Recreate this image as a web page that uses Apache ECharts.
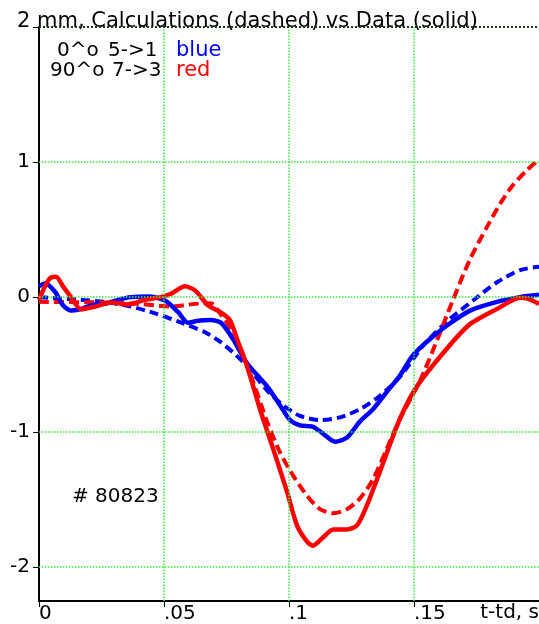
<!DOCTYPE html>
<html>
<head>
<meta charset="utf-8">
<script src="https://cdn.jsdelivr.net/npm/echarts@6/dist/echarts.min.js"></script>
<style>
html,body{margin:0;padding:0;background:#fff;}
#c{width:539px;height:624px;}
</style>
</head>
<body>
<div id="c"></div>
<script>
// ---- data (t - td in seconds, displacement in mm) ----
var blueDataT = [0,0.0024,0.0064,0.0096,0.0128,0.0164,0.0212,0.0264,0.0316,0.0368,0.0436,0.0504,0.0556,0.0596,0.0636,0.0688,0.0728,0.0776,0.0832,0.0912,0.0964,0.1004,0.1044,0.1096,0.1136,0.1184,0.1232,0.1284,0.1336,0.1392,0.1444,0.1496,0.1564,0.1632,0.1724,0.1832,0.1924,0.2];
var blueDataV = [0.08,0.10,0.04,-0.06,-0.10,-0.09,-0.06,-0.05,-0.02,0.0,0.005,-0.025,-0.11,-0.19,-0.175,-0.17,-0.19,-0.31,-0.49,-0.66,-0.80,-0.91,-0.95,-0.96,-1.01,-1.07,-1.04,-0.92,-0.83,-0.70,-0.58,-0.43,-0.31,-0.21,-0.10,-0.035,0.0,0.017];

var blueCalcT = [0,0.0084,0.0164,0.0264,0.0368,0.0464,0.0556,0.0664,0.0724,0.0776,0.0832,0.0912,0.0976,0.1044,0.1124,0.1204,0.1284,0.1364,0.1444,0.1536,0.1632,0.1736,0.1832,0.1924,0.2];
var blueCalcV = [0.0,-0.01,-0.02,-0.035,-0.07,-0.12,-0.18,-0.26,-0.33,-0.41,-0.51,-0.69,-0.80,-0.88,-0.91,-0.89,-0.83,-0.73,-0.59,-0.36,-0.18,-0.025,0.11,0.20,0.225];

var redDataT = [0,0.0024,0.0044,0.0068,0.0096,0.0128,0.0168,0.0224,0.0288,0.0356,0.0424,0.0488,0.0528,0.0584,0.0624,0.0676,0.0724,0.0764,0.0792,0.0832,0.0884,0.0936,0.0992,0.1032,0.1072,0.1096,0.1136,0.1176,0.1232,0.1272,0.1312,0.1364,0.1444,0.1512,0.1632,0.1724,0.1832,0.1924,0.1952,0.2];
var redDataV = [-0.02,0.08,0.14,0.15,0.08,0.0,-0.09,-0.07,-0.04,-0.055,-0.02,0.0,0.025,0.08,0.05,-0.06,-0.11,-0.17,-0.31,-0.51,-0.83,-1.12,-1.44,-1.69,-1.81,-1.84,-1.78,-1.72,-1.72,-1.69,-1.54,-1.29,-0.90,-0.66,-0.38,-0.20,-0.087,-0.005,-0.01,-0.05];

var redCalcT = [0,0.0264,0.0396,0.0528,0.0624,0.0688,0.0724,0.0776,0.0832,0.0912,0.0964,0.1016,0.1072,0.1124,0.1176,0.1232,0.1284,0.1336,0.1392,0.1444,0.1524,0.1592,0.1656,0.1724,0.1792,0.1844,0.1896,0.1952,0.2];
var redCalcV = [-0.035,-0.04,-0.05,-0.07,-0.05,-0.045,-0.12,-0.26,-0.50,-0.92,-1.15,-1.32,-1.47,-1.57,-1.60,-1.57,-1.49,-1.35,-1.12,-0.90,-0.62,-0.32,-0.02,0.28,0.52,0.69,0.83,0.94,1.02];

var xTicks = [0,0.05,0.1,0.15];
var xTickLabels = ['0','.05','.1','.15'];
var yTicks = [-2,-1,0,1,2];
var yLabelValues = [-2,-1,0,1];
var xGrid = [0.05,0.1,0.15];
var yGrid = [-2,-1,0,1];

var titleText = '2 mm, Calculations (dashed) vs Data (solid)';
var xAxisName = 't-td, s';
var shotText = '# 80823';

function pairs(t, v){ return t.map(function(x,i){ return [x, v[i]]; }); }

var FONT = '"DejaVu Sans", sans-serif';
var GREEN = '#3fe83f';

var chart = echarts.init(document.getElementById('c'), null, {renderer:'canvas'});

var gridLines = xGrid.map(function(x){ return {xAxis:x}; })
  .concat(yGrid.map(function(y){ return {yAxis:y}; }));

chart.setOption({
  animation:false,
  backgroundColor:'#ffffff',
  grid:{left:39, right:0, top:27, bottom:23, containLabel:false},
  xAxis:{
    type:'value', min:0, max:0.2,
    axisLine:{show:true, onZero:false, lineStyle:{color:'#000', width:2}},
    axisTick:{show:true, length:6, customValues:xTicks, lineStyle:{color:'#000', width:1}},
    axisLabel:{show:true, customValues:xTicks, margin:3, align:'left', fontFamily:FONT, fontSize:20, color:'#000',
      formatter:function(v){ var i = xTicks.indexOf(v); return i>=0 ? xTickLabels[i] : ''; }},
    splitLine:{show:false}
  },
  yAxis:{
    type:'value', min:-2.25, max:2,
    axisLine:{show:true, onZero:false, lineStyle:{color:'#000', width:2}},
    axisTick:{show:true, length:6, customValues:yTicks, lineStyle:{color:'#000', width:1}},
    axisLabel:{show:true, customValues:yLabelValues, margin:9, fontFamily:FONT, fontSize:20, color:'#000', padding:[0,0,7,0]},
    splitLine:{show:false}
  },
  graphic:[
    {type:'text', left:17, top:11, style:{text:titleText, font:'21px "DejaVu Sans", sans-serif', fill:'#000'}},
    {type:'text', left:57, top:41, style:{text:'0^o', font:'20px "DejaVu Sans", sans-serif', fill:'#000'}},
    {type:'text', left:108, top:41, style:{text:'5->1', font:'20px "DejaVu Sans", sans-serif', fill:'#000'}},
    {type:'text', left:50, top:61, style:{text:'90^o', font:'20px "DejaVu Sans", sans-serif', fill:'#000'}},
    {type:'text', left:112, top:61, style:{text:'7->3', font:'20px "DejaVu Sans", sans-serif', fill:'#000'}},
    {type:'text', left:176, top:40, style:{text:'blue', font:'21px "DejaVu Sans", sans-serif', fill:'#0000ff'}},
    {type:'text', left:176, top:60, style:{text:'red', font:'21px "DejaVu Sans", sans-serif', fill:'#ff0000'}},
    {type:'text', left:72, top:487, style:{text:shotText, font:'20px "DejaVu Sans", sans-serif', fill:'#000'}},
    {type:'text', right:0, top:603, style:{text:xAxisName, font:'20px "DejaVu Sans", sans-serif', fill:'#000'}}
  ],
  series:[
    {type:'line', name:'grid', data:[], silent:true,
      markLine:{silent:true, symbol:'none', label:{show:false}, animation:false,
        lineStyle:{color:GREEN, type:'dotted', width:1.5}, data:gridLines}},
    {type:'line', name:'border', data:[], silent:true,
      markLine:{silent:true, symbol:'none', label:{show:false}, animation:false,
        lineStyle:{color:'#1a3a1a', type:'dotted', width:2}, data:[{yAxis:2}]}},
    {type:'line', name:'blue calc', data:pairs(blueCalcT, blueCalcV), showSymbol:false, smooth:0.25,
      lineStyle:{color:'#0000ff', width:4, type:[9,5]}},
    {type:'line', name:'red calc', data:pairs(redCalcT, redCalcV), showSymbol:false, smooth:0.25,
      lineStyle:{color:'#ff0000', width:4, type:[10,5]}},
    {type:'line', name:'blue data', data:pairs(blueDataT, blueDataV), showSymbol:false, smooth:0.25,
      lineStyle:{color:'#0000ff', width:4.5}},
    {type:'line', name:'red data', data:pairs(redDataT, redDataV), showSymbol:false, smooth:0.25,
      lineStyle:{color:'#ff0000', width:4.5}}
  ]
});
</script>
</body>
</html>
